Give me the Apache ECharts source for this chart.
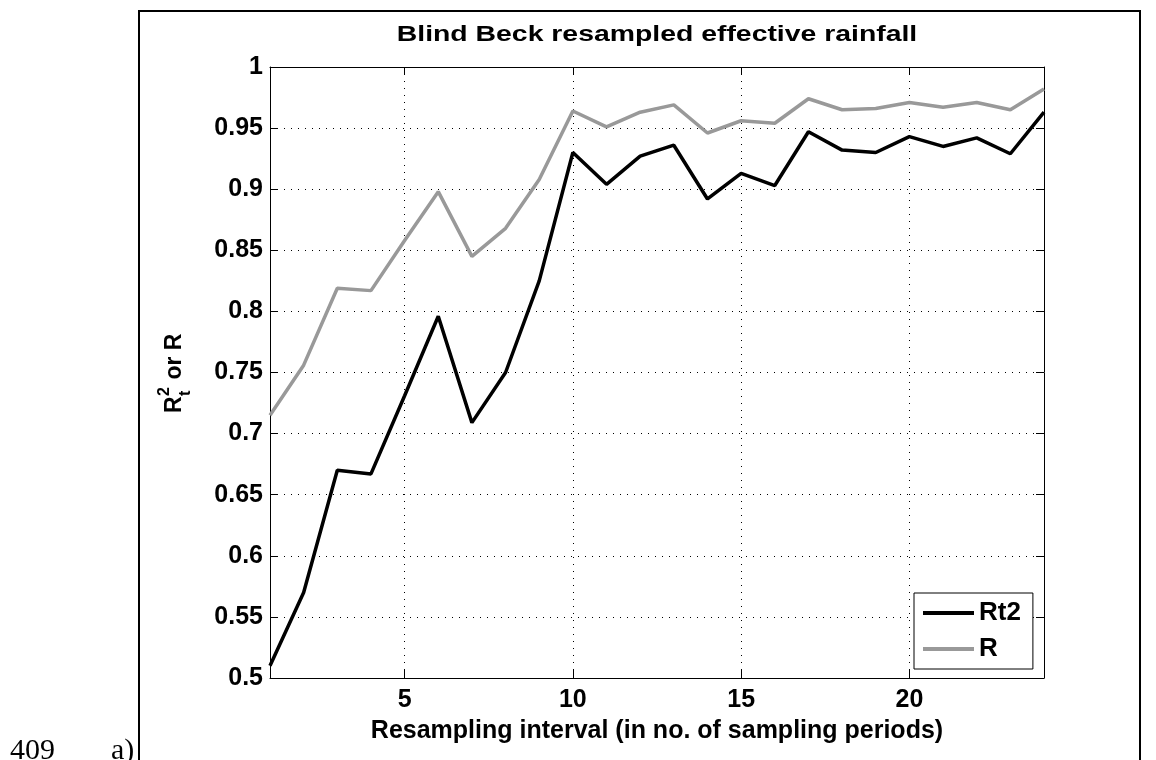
<!DOCTYPE html>
<html>
<head>
<meta charset="utf-8">
<script src="https://cdn.jsdelivr.net/npm/echarts@6/dist/echarts.min.js"></script>
<style>
  html, body { margin: 0; padding: 0; background: #fff; }
  #chart { width: 1156px; height: 760px; }
</style>
</head>
<body>
<div id="chart"></div>
<script>
// Resampling interval (number of sampling periods)
const resamplingInterval = [1, 2, 3, 4, 5, 6, 7, 8, 9, 10, 11, 12, 13, 14, 15, 16, 17, 18, 19, 20, 21, 22, 23, 24];
// Rt2 efficiency of the resampled effective rainfall
const rt2Values = [0.510, 0.570, 0.670, 0.667, 0.731, 0.796, 0.709, 0.750, 0.825, 0.930, 0.904, 0.927,
                   0.936, 0.892, 0.913, 0.903, 0.947, 0.932, 0.930, 0.943, 0.935, 0.942, 0.929, 0.963];
// Correlation coefficient R
const rValues = [0.715, 0.756, 0.819, 0.817, 0.858, 0.898, 0.845, 0.868, 0.908, 0.964, 0.951, 0.963,
                 0.969, 0.946, 0.956, 0.954, 0.974, 0.965, 0.966, 0.971, 0.967, 0.971, 0.965, 0.982];
const xTickEvery = 5;

const FONT = '"Liberation Sans", Arial, Helvetica, sans-serif';
const SERIF = '"Liberation Serif", "Times New Roman", serif';
const showTick = (idx) => resamplingInterval[idx] % xTickEvery === 0;

const chart = echarts.init(document.getElementById('chart'), null, { renderer: 'canvas' });

const dotted = { color: '#000', width: 1, type: [1, 6] };

chart.setOption({
  animation: false,
  backgroundColor: '#fff',
  grid: { left: 270, right: 112, top: 67, bottom: 82, containLabel: false },
  legend: {
    orient: 'vertical',
    left: 914,
    top: 593,
    padding: [6, 12, 6, 9],
    itemWidth: 51,
    itemHeight: 4,
    itemGap: 8,
    backgroundColor: '#fff',
    borderColor: '#000',
    borderWidth: 1,
    borderRadius: 0,
    textStyle: { fontFamily: FONT, fontWeight: 'bold', fontSize: 26, lineHeight: 28, color: '#000' },
    data: [
      { name: 'Rt2', icon: 'rect' },
      { name: 'R', icon: 'rect' }
    ]
  },
  xAxis: [
    {
      type: 'category',
      data: resamplingInterval,
      boundaryGap: false,
      position: 'bottom',
      name: 'Resampling interval (in no. of sampling periods)',
      nameLocation: 'middle',
      nameGap: 41,
      nameTextStyle: { fontFamily: FONT, fontWeight: 'bold', fontSize: 25, color: '#000' },
      axisLine: { lineStyle: { color: '#000', width: 1 } },
      axisTick: { inside: true, length: 8, interval: (i) => showTick(i), lineStyle: { color: '#000' } },
      axisLabel: {
        interval: (i) => showTick(i), margin: 10,
        fontFamily: FONT, fontWeight: 'bold', fontSize: 25, color: '#000'
      },
      splitLine: { show: true, interval: (i) => showTick(i), lineStyle: dotted }
    },
    {
      type: 'category',
      data: resamplingInterval,
      boundaryGap: false,
      position: 'top',
      axisLine: { lineStyle: { color: '#000', width: 1 } },
      axisTick: { inside: true, length: 8, interval: (i) => showTick(i), lineStyle: { color: '#000' } },
      axisLabel: { show: false },
      splitLine: { show: false }
    }
  ],
  yAxis: [
    {
      type: 'value',
      min: 0.5,
      max: 1,
      interval: 0.05,
      position: 'left',
      axisLine: { show: true, lineStyle: { color: '#000', width: 1 } },
      axisTick: { show: true, inside: true, length: 8, lineStyle: { color: '#000' } },
      axisLabel: {
        margin: 7,
        fontFamily: FONT, fontWeight: 'bold', fontSize: 25, color: '#000',
        formatter: (v) => String(+v.toFixed(2))
      },
      splitLine: { show: true, lineStyle: dotted }
    },
    {
      type: 'value',
      min: 0.5,
      max: 1,
      interval: 0.05,
      position: 'right',
      axisLine: { show: true, lineStyle: { color: '#000', width: 1 } },
      axisTick: { show: true, inside: true, length: 8, lineStyle: { color: '#000' } },
      axisLabel: { show: false },
      splitLine: { show: false }
    }
  ],
  series: [
    {
      name: 'Rt2',
      type: 'line',
      data: rt2Values,
      symbol: 'none',
      lineStyle: { color: '#000', width: 3.5 },
      itemStyle: { color: '#000' },
      z: 3
    },
    {
      name: 'R',
      type: 'line',
      data: rValues,
      symbol: 'none',
      lineStyle: { color: '#999', width: 3.5 },
      itemStyle: { color: '#999' },
      z: 2
    }
  ],
  graphic: [
    // outer figure frame
    {
      type: 'polyline',
      shape: { points: [[139, 770], [139, 11], [1140, 11], [1140, 770]] },
      style: { stroke: '#000', lineWidth: 2, fill: null },
      silent: true
    },
    // chart title (wide bold face)
    {
      type: 'text',
      x: 657,
      y: 35,
      scaleX: 1.29,
      style: {
        text: 'Blind Beck resampled effective rainfall',
        font: 'bold 22px ' + FONT, fill: '#000',
        textAlign: 'center', textVerticalAlign: 'middle'
      }
    },
    // y-axis title: R with superscript 2 and subscript t, then "or R"
    {
      type: 'group',
      x: 175,
      y: 371,
      rotation: Math.PI / 2,
      children: [
        { type: 'text', x: -42, y: 0, style: { text: 'R', font: 'bold 23px ' + FONT, fill: '#000', textVerticalAlign: 'middle' } },
        { type: 'text', x: -25, y: -10, style: { text: '2', font: 'bold 16px ' + FONT, fill: '#000', textVerticalAlign: 'middle' } },
        { type: 'text', x: -25, y: 11, style: { text: 't', font: 'bold 16px ' + FONT, fill: '#000', textVerticalAlign: 'middle' } },
        { type: 'text', x: -15, y: 0, style: { text: ' or R', font: 'bold 23px ' + FONT, fill: '#000', textVerticalAlign: 'middle' } }
      ]
    },
    // page annotations
    { type: 'text', x: 10, y: 736, style: { text: '409', font: '30px ' + SERIF, fill: '#000' } },
    { type: 'text', x: 111, y: 736, style: { text: 'a)', font: '30px ' + SERIF, fill: '#000' } }
  ]
});
</script>
</body>
</html>
